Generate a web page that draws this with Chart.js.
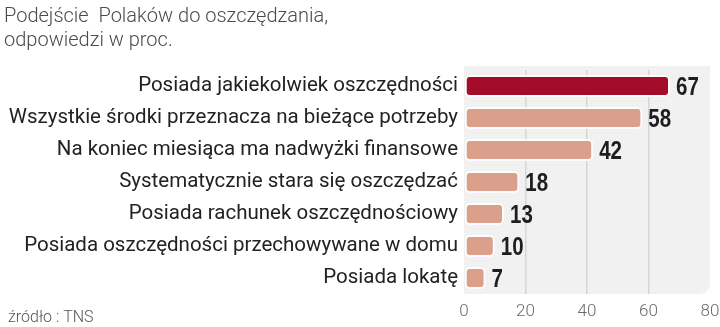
<!DOCTYPE html>
<html>
<head>
<meta charset="utf-8">
<script src="https://cdn.jsdelivr.net/npm/chart.js@4"></script>
<style>
  html, body { margin: 0; padding: 0; background: #fff; }
  #wrap { width: 720px; height: 327px; position: relative; }
</style>
</head>
<body>
<div id="wrap"><canvas id="chart"></canvas></div>
<script>
const titleLines = ["Podejście  Polaków do oszczędzania,", "odpowiedzi w proc."];
const sourceText = "źródło : TNS";

const categories = [
  "Posiada jakiekolwiek oszczędności",
  "Wszystkie środki przeznacza na bieżące potrzeby",
  "Na koniec miesiąca ma nadwyżki finansowe",
  "Systematycznie stara się oszczędzać",
  "Posiada rachunek oszczędnościowy",
  "Posiada oszczędności przechowywane w domu",
  "Posiada lokatę"
];
const values = [67, 58, 42, 18, 13, 10, 7];
const xTicks = [0, 20, 40, 60, 80];

const barColors = values.map((v, i) => (i === 0 ? "#a30d2b" : "#dba08b"));

// grey panel behind the bars, rounded at the bottom right
const panelPlugin = {
  id: "panel",
  beforeDraw(chart) {
    const { ctx, chartArea: a } = chart;
    const r = 12;
    ctx.save();
    ctx.fillStyle = "#f1f1f1";
    ctx.beginPath();
    ctx.moveTo(a.left, a.top - 4);
    ctx.lineTo(a.right, a.top - 4);
    ctx.lineTo(a.right, a.bottom - r);
    ctx.quadraticCurveTo(a.right, a.bottom, a.right - r, a.bottom);
    ctx.lineTo(a.left, a.bottom);
    ctx.closePath();
    ctx.fill();
    ctx.restore();
  }
};

// heading, source line and the value next to each bar
const textPlugin = {
  id: "texts",
  afterDatasetsDraw(chart) {
    const { ctx } = chart;
    ctx.save();
    ctx.fillStyle = "#4a4a4a";
    ctx.font = "300 20px Roboto";
    ctx.textBaseline = "alphabetic";
    ctx.textAlign = "left";
    ctx.fillText(titleLines[0], 4, 22);
    ctx.fillText(titleLines[1], 4, 46);

    ctx.font = "300 16px Roboto";
    ctx.fillStyle = "#555";
    ctx.fillText(sourceText, 8, 322);

    // narrow bold numbers: squeeze a bold face horizontally
    const meta = chart.getDatasetMeta(0);
    ctx.fillStyle = "#1e1e1e";
    ctx.font = "bold 25px 'Liberation Sans', sans-serif";
    ctx.textBaseline = "middle";
    const squeeze = 0.82;
    meta.data.forEach((bar, i) => {
      ctx.save();
      ctx.translate(bar.x + 6, bar.y + 2);
      ctx.scale(squeeze, 1);
      ctx.fillText(String(values[i]), 0, 0);
      ctx.restore();
    });
    ctx.restore();
  }
};

new Chart(document.getElementById("chart"), {
  type: "bar",
  data: {
    labels: categories,
    datasets: [{
      data: values,
      backgroundColor: barColors,
      borderColor: "rgba(255,255,255,0.85)",
      borderWidth: 2,
      borderRadius: 5,
      borderSkipped: false,
      barPercentage: 0.68,
      categoryPercentage: 1
    }]
  },
  options: {
    indexAxis: "y",
    responsive: true,
    maintainAspectRatio: false,
    animation: false,
    layout: { padding: { top: 70, right: 10, bottom: 7, left: 0 } },
    plugins: {
      legend: { display: false },
      tooltip: { enabled: false }
    },
    scales: {
      x: {
        min: 0,
        max: 80,
        afterBuildTicks(scale) {
          scale.ticks = xTicks.map(v => ({ value: v }));
        },
        afterFit(scale) {
          scale.height = 26;
          scale.paddingLeft = 0;
          scale.paddingRight = 0;
        },
        grid: {
          color: ctx => (ctx.tick && (ctx.tick.value === 0 || ctx.tick.value === 80) ? "rgba(0,0,0,0)" : "#d6d6d6"),
          lineWidth: 1.5,
          drawTicks: false
        },
        border: { display: false },
        ticks: {
          padding: 8,
          color: "#6a6a6a",
          font: { family: "Roboto", size: 17, weight: 300 },
          maxRotation: 0
        }
      },
      y: {
        afterFit(scale) { scale.width = 464; },
        grid: { display: false, drawTicks: false },
        border: { display: false },
        ticks: {
          padding: 6,
          color: "#222",
          font: { family: "Roboto", size: 20.5 }
        }
      }
    }
  },
  plugins: [panelPlugin, textPlugin]
});
</script>
</body>
</html>
